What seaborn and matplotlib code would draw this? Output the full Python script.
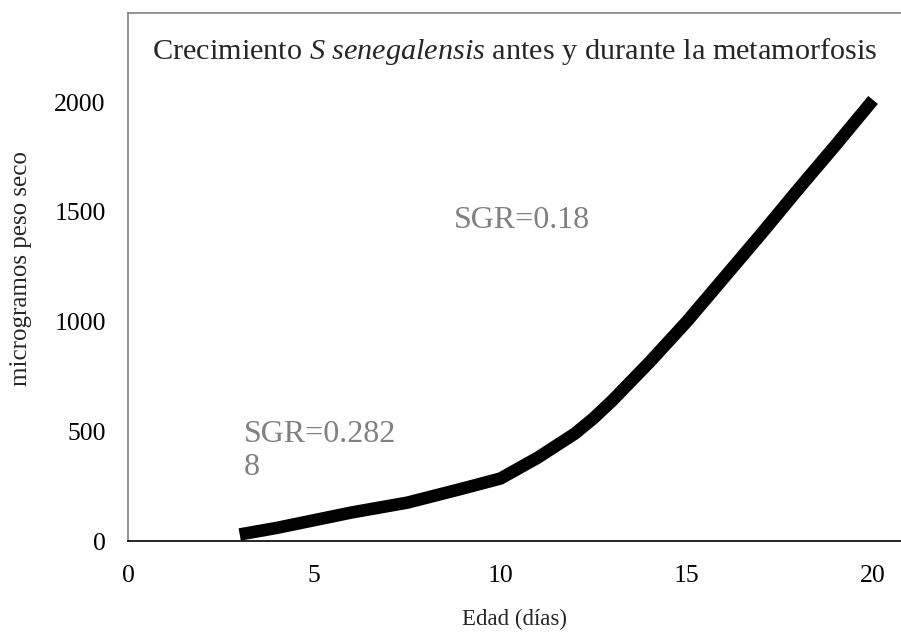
import numpy as np
import matplotlib
matplotlib.use("Agg")
import matplotlib.pyplot as plt
import pandas as pd
import seaborn as sns

# Valores (edad en dias, microgramos peso seco)
edad = [3, 4, 5, 6, 7.5, 9, 10, 11, 12, 12.5, 13, 14, 15, 16, 17, 18, 19, 20]
peso = [30, 60, 95, 130, 175, 240, 285, 380, 490, 560, 640, 815, 1000, 1200, 1400, 1605, 1805, 2010]

x_ticks = [0, 5, 10, 15, 20]
y_ticks = [0, 500, 1000, 1500, 2000]

df = pd.DataFrame({"edad": edad, "peso": peso})

sns.set_style("white")
plt.rcParams["font.family"] = ["Liberation Serif", "DejaVu Serif"]
# Cursiva de la especie en Liberation Serif
plt.rcParams["mathtext.fontset"] = "custom"
plt.rcParams["mathtext.rm"] = "Liberation Serif"
plt.rcParams["mathtext.it"] = "Liberation Serif:italic"

fig = plt.figure(figsize=(9.01, 6.33), dpi=100)
ax = fig.add_axes([0.142, 0.1453, 0.858, 0.8337])

sns.lineplot(
    data=df,
    x="edad",
    y="peso",
    color="black",
    linewidth=9,
    solid_capstyle="butt",
    ax=ax
)

ax.set_xlim(0, 20.75)
ax.set_ylim(0, 2405)
ax.set_xticks(x_ticks)
ax.set_yticks(y_ticks)
ax.tick_params(axis="both", direction="out", length=5, width=1, colors="black", labelsize=18.5)
ax.tick_params(axis="x", pad=12)
ax.tick_params(axis="y", pad=11)

# Bordes: izquierda y arriba grises, abajo negro
ax.spines["right"].set_visible(False)
ax.spines["left"].set_color("#808080")
ax.spines["top"].set_color("#808080")
ax.spines["bottom"].set_color("black")
for s in ["left", "top", "bottom"]:
    ax.spines[s].set_linewidth(1.2)

ax.set_xlabel("Edad (días)", fontsize=16.5)
ax.set_ylabel("microgramos peso seco", fontsize=18)
ax.xaxis.set_label_coords(0.5, -0.128)
ax.yaxis.set_label_coords(-0.124, 0.517)

# Titulo dentro del area del grafico
ax.text(
    0.031, 0.928,
    r"Crecimiento $\it{S\ senegalensis}$ antes y durante la metamorfosis",
    transform=ax.transAxes, fontsize=21.8, ha="left", va="center"
)

ax.text(8.75, 1460, "SGR=0.18", color="#808080", fontsize=23, ha="left", va="center")
ax.text(3.1, 410, "SGR=0.282\n8", color="#808080", fontsize=23, ha="left", va="center",
        linespacing=1.15)

plt.savefig("out.png", dpi=100)
